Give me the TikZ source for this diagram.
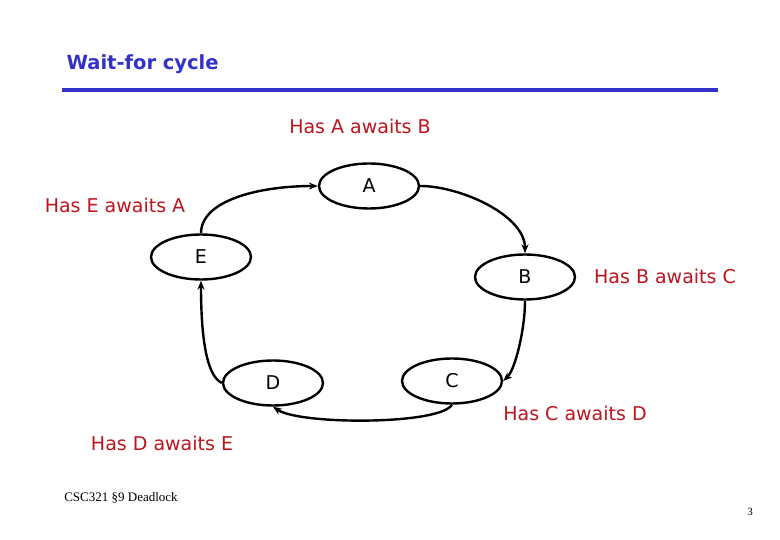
\documentclass[tikz,border=0pt]{standalone}
\usepackage{fontspec}
\setsansfont{DejaVu Sans}
\setmainfont{Liberation Serif}
\usetikzlibrary{shapes.geometric,arrows.meta}
\definecolor{lab}{RGB}{190,20,30}
\definecolor{ttl}{RGB}{50,50,200}
\begin{document}
\begin{tikzpicture}[x=1pt,y=-1pt,
  proc/.style={draw,line width=2.4pt,ellipse,minimum width=100pt,minimum height=45pt,inner sep=0pt,font=\sffamily\fontsize{19}{22}\selectfont},
  lbl/.style={text=lab,font=\sffamily\fontsize{19}{23}\selectfont},
  edge/.style={line width=2.4pt,-{Stealth[length=9pt,width=7pt]}}]
\useasboundingbox (0,0) rectangle (780,540);
\node[text=ttl,font=\sffamily\bfseries\fontsize{19.5}{23}\selectfont,anchor=west] (t) at (63,64) {Wait-for cycle};
\draw[ttl,line width=3.5pt] (62,90) -- (718,90);
\node[proc] (A) at (369,186) {A};
\node[proc] (E) at (201,257) {E};
\node[proc] (B) at (525,277) {B};
\node[proc] (D) at (273,383) {D};
\node[proc] (C) at (452,381) {C};
\draw[edge] (E.north) .. controls (201,200) and (260,186) .. (A.west);
\draw[edge] (A.east) .. controls (460,186) and (525,215) .. (B.north);
\draw[edge] (B.south) .. controls (525,330) and (515,370) .. (C.east);
\draw[edge] (C.south) .. controls (440,425) and (300,425) .. (D.south);
\draw[edge] (D.west) .. controls (205,375) and (201,330) .. (E.south);
\node[lbl] (la) at (360,126) {Has A awaits B};
\node[lbl] (le) at (115,205) {Has E awaits A};
\node[lbl] (lb) at (665,276) {Has B awaits C};
\node[lbl] (lc) at (575,413) {Has C awaits D};
\node[lbl] (ld) at (162,443) {Has D awaits E};
\node[font=\rmfamily\fontsize{13}{15}\selectfont] (f) at (121,498) {CSC321 §9 Deadlock};
\node[font=\rmfamily\fontsize{11}{13}\selectfont] (p) at (750,512) {3};
\end{tikzpicture}
\end{document}
